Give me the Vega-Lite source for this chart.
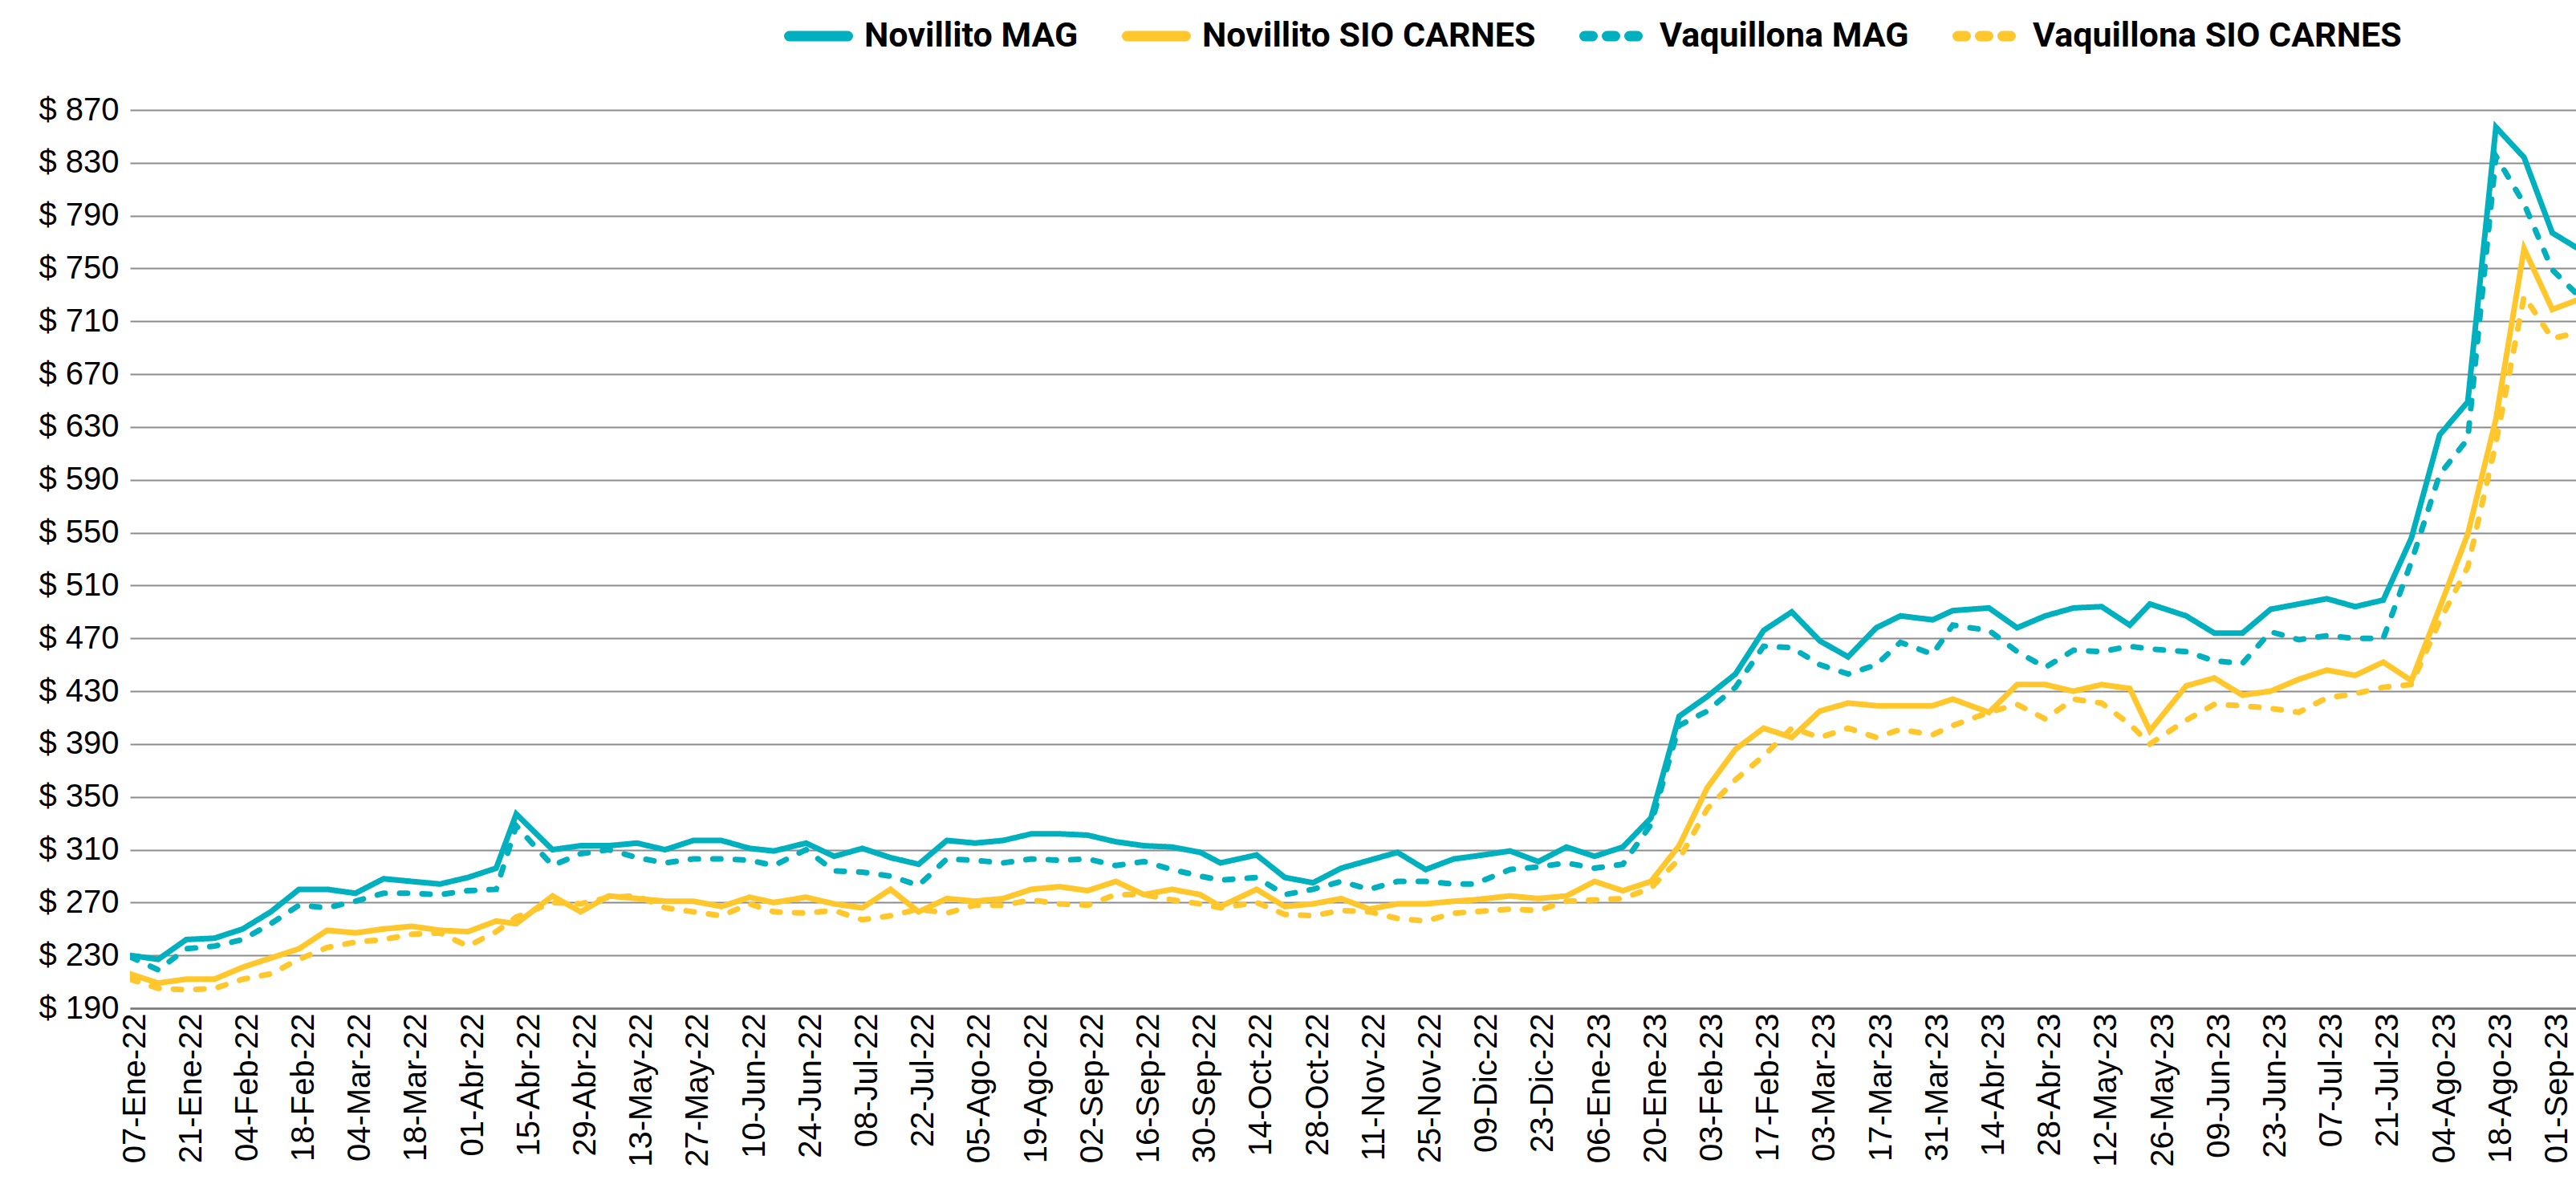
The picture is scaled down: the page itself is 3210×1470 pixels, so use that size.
{
  "$schema": "https://vega.github.io/schema/vega-lite/v6.json",
  "width": 3048,
  "height": 1119,
  "autosize": {"type": "none"},
  "padding": {"left": 162, "top": 137, "right": 0, "bottom": 214},
  "background": "white",
  "config": {"view": {"stroke": null}},
  "data": {"values": [
    {"fecha": "2022-01-07", "Novillito MAG": 230, "Novillito SIO CARNES": 216, "Vaquillona MAG": 229, "Vaquillona SIO CARNES": 212},
    {"fecha": "2022-01-14", "Novillito MAG": 227, "Novillito SIO CARNES": 209, "Vaquillona MAG": 219, "Vaquillona SIO CARNES": 205},
    {"fecha": "2022-01-21", "Novillito MAG": 242, "Novillito SIO CARNES": 212, "Vaquillona MAG": 235, "Vaquillona SIO CARNES": 204},
    {"fecha": "2022-01-28", "Novillito MAG": 243, "Novillito SIO CARNES": 212, "Vaquillona MAG": 237, "Vaquillona SIO CARNES": 205},
    {"fecha": "2022-02-04", "Novillito MAG": 250, "Novillito SIO CARNES": 221, "Vaquillona MAG": 242, "Vaquillona SIO CARNES": 212},
    {"fecha": "2022-02-11", "Novillito MAG": 263, "Novillito SIO CARNES": 228, "Vaquillona MAG": 254, "Vaquillona SIO CARNES": 216},
    {"fecha": "2022-02-18", "Novillito MAG": 280, "Novillito SIO CARNES": 235, "Vaquillona MAG": 268, "Vaquillona SIO CARNES": 227},
    {"fecha": "2022-02-25", "Novillito MAG": 280, "Novillito SIO CARNES": 249, "Vaquillona MAG": 266, "Vaquillona SIO CARNES": 236},
    {"fecha": "2022-03-04", "Novillito MAG": 277, "Novillito SIO CARNES": 247, "Vaquillona MAG": 271, "Vaquillona SIO CARNES": 240},
    {"fecha": "2022-03-11", "Novillito MAG": 288, "Novillito SIO CARNES": 250, "Vaquillona MAG": 277, "Vaquillona SIO CARNES": 242},
    {"fecha": "2022-03-18", "Novillito MAG": 286, "Novillito SIO CARNES": 252, "Vaquillona MAG": 277, "Vaquillona SIO CARNES": 246},
    {"fecha": "2022-03-25", "Novillito MAG": 284, "Novillito SIO CARNES": 249, "Vaquillona MAG": 276, "Vaquillona SIO CARNES": 247},
    {"fecha": "2022-04-01", "Novillito MAG": 289, "Novillito SIO CARNES": 248, "Vaquillona MAG": 279, "Vaquillona SIO CARNES": 237},
    {"fecha": "2022-04-08", "Novillito MAG": 296, "Novillito SIO CARNES": 256, "Vaquillona MAG": 280, "Vaquillona SIO CARNES": 248},
    {"fecha": "2022-04-13", "Novillito MAG": 337, "Novillito SIO CARNES": 254, "Vaquillona MAG": 328, "Vaquillona SIO CARNES": 259},
    {"fecha": "2022-04-22", "Novillito MAG": 310, "Novillito SIO CARNES": 275, "Vaquillona MAG": 298, "Vaquillona SIO CARNES": 270},
    {"fecha": "2022-04-29", "Novillito MAG": 313, "Novillito SIO CARNES": 263, "Vaquillona MAG": 307, "Vaquillona SIO CARNES": 269},
    {"fecha": "2022-05-06", "Novillito MAG": 313, "Novillito SIO CARNES": 275, "Vaquillona MAG": 310, "Vaquillona SIO CARNES": 274},
    {"fecha": "2022-05-13", "Novillito MAG": 315, "Novillito SIO CARNES": 273, "Vaquillona MAG": 304, "Vaquillona SIO CARNES": 275},
    {"fecha": "2022-05-20", "Novillito MAG": 310, "Novillito SIO CARNES": 271, "Vaquillona MAG": 300, "Vaquillona SIO CARNES": 266},
    {"fecha": "2022-05-27", "Novillito MAG": 317, "Novillito SIO CARNES": 271, "Vaquillona MAG": 303, "Vaquillona SIO CARNES": 263},
    {"fecha": "2022-06-03", "Novillito MAG": 317, "Novillito SIO CARNES": 267, "Vaquillona MAG": 303, "Vaquillona SIO CARNES": 260},
    {"fecha": "2022-06-10", "Novillito MAG": 311, "Novillito SIO CARNES": 274, "Vaquillona MAG": 302, "Vaquillona SIO CARNES": 269},
    {"fecha": "2022-06-16", "Novillito MAG": 309, "Novillito SIO CARNES": 270, "Vaquillona MAG": 298, "Vaquillona SIO CARNES": 263},
    {"fecha": "2022-06-24", "Novillito MAG": 315, "Novillito SIO CARNES": 274, "Vaquillona MAG": 310, "Vaquillona SIO CARNES": 262},
    {"fecha": "2022-07-01", "Novillito MAG": 305, "Novillito SIO CARNES": 269, "Vaquillona MAG": 294, "Vaquillona SIO CARNES": 264},
    {"fecha": "2022-07-08", "Novillito MAG": 311, "Novillito SIO CARNES": 266, "Vaquillona MAG": 293, "Vaquillona SIO CARNES": 257},
    {"fecha": "2022-07-15", "Novillito MAG": 304, "Novillito SIO CARNES": 280, "Vaquillona MAG": 290, "Vaquillona SIO CARNES": 260},
    {"fecha": "2022-07-22", "Novillito MAG": 299, "Novillito SIO CARNES": 263, "Vaquillona MAG": 283, "Vaquillona SIO CARNES": 265},
    {"fecha": "2022-07-29", "Novillito MAG": 317, "Novillito SIO CARNES": 273, "Vaquillona MAG": 303, "Vaquillona SIO CARNES": 262},
    {"fecha": "2022-08-05", "Novillito MAG": 315, "Novillito SIO CARNES": 271, "Vaquillona MAG": 302, "Vaquillona SIO CARNES": 268},
    {"fecha": "2022-08-12", "Novillito MAG": 317, "Novillito SIO CARNES": 273, "Vaquillona MAG": 300, "Vaquillona SIO CARNES": 268},
    {"fecha": "2022-08-19", "Novillito MAG": 322, "Novillito SIO CARNES": 280, "Vaquillona MAG": 303, "Vaquillona SIO CARNES": 272},
    {"fecha": "2022-08-26", "Novillito MAG": 322, "Novillito SIO CARNES": 282, "Vaquillona MAG": 302, "Vaquillona SIO CARNES": 269},
    {"fecha": "2022-09-02", "Novillito MAG": 321, "Novillito SIO CARNES": 279, "Vaquillona MAG": 303, "Vaquillona SIO CARNES": 268},
    {"fecha": "2022-09-09", "Novillito MAG": 316, "Novillito SIO CARNES": 286, "Vaquillona MAG": 298, "Vaquillona SIO CARNES": 276},
    {"fecha": "2022-09-16", "Novillito MAG": 313, "Novillito SIO CARNES": 276, "Vaquillona MAG": 301, "Vaquillona SIO CARNES": 276},
    {"fecha": "2022-09-23", "Novillito MAG": 312, "Novillito SIO CARNES": 280, "Vaquillona MAG": 295, "Vaquillona SIO CARNES": 272},
    {"fecha": "2022-09-30", "Novillito MAG": 308, "Novillito SIO CARNES": 276, "Vaquillona MAG": 290, "Vaquillona SIO CARNES": 269},
    {"fecha": "2022-10-05", "Novillito MAG": 300, "Novillito SIO CARNES": 267, "Vaquillona MAG": 287, "Vaquillona SIO CARNES": 266},
    {"fecha": "2022-10-14", "Novillito MAG": 306, "Novillito SIO CARNES": 280, "Vaquillona MAG": 289, "Vaquillona SIO CARNES": 270},
    {"fecha": "2022-10-21", "Novillito MAG": 289, "Novillito SIO CARNES": 267, "Vaquillona MAG": 276, "Vaquillona SIO CARNES": 261},
    {"fecha": "2022-10-28", "Novillito MAG": 285, "Novillito SIO CARNES": 269, "Vaquillona MAG": 280, "Vaquillona SIO CARNES": 260},
    {"fecha": "2022-11-04", "Novillito MAG": 296, "Novillito SIO CARNES": 273, "Vaquillona MAG": 286, "Vaquillona SIO CARNES": 264},
    {"fecha": "2022-11-11", "Novillito MAG": 302, "Novillito SIO CARNES": 265, "Vaquillona MAG": 280, "Vaquillona SIO CARNES": 263},
    {"fecha": "2022-11-18", "Novillito MAG": 308, "Novillito SIO CARNES": 269, "Vaquillona MAG": 286, "Vaquillona SIO CARNES": 258},
    {"fecha": "2022-11-25", "Novillito MAG": 295, "Novillito SIO CARNES": 269, "Vaquillona MAG": 286, "Vaquillona SIO CARNES": 256},
    {"fecha": "2022-12-02", "Novillito MAG": 303, "Novillito SIO CARNES": 271, "Vaquillona MAG": 284, "Vaquillona SIO CARNES": 262},
    {"fecha": "2022-12-07", "Novillito MAG": 305, "Novillito SIO CARNES": 272, "Vaquillona MAG": 284, "Vaquillona SIO CARNES": 263},
    {"fecha": "2022-12-16", "Novillito MAG": 309, "Novillito SIO CARNES": 275, "Vaquillona MAG": 295, "Vaquillona SIO CARNES": 265},
    {"fecha": "2022-12-23", "Novillito MAG": 301, "Novillito SIO CARNES": 273, "Vaquillona MAG": 297, "Vaquillona SIO CARNES": 264},
    {"fecha": "2022-12-30", "Novillito MAG": 312, "Novillito SIO CARNES": 275, "Vaquillona MAG": 300, "Vaquillona SIO CARNES": 271},
    {"fecha": "2023-01-06", "Novillito MAG": 305, "Novillito SIO CARNES": 286, "Vaquillona MAG": 296, "Vaquillona SIO CARNES": 272},
    {"fecha": "2023-01-13", "Novillito MAG": 312, "Novillito SIO CARNES": 279, "Vaquillona MAG": 299, "Vaquillona SIO CARNES": 273},
    {"fecha": "2023-01-20", "Novillito MAG": 334, "Novillito SIO CARNES": 286, "Vaquillona MAG": 329, "Vaquillona SIO CARNES": 281},
    {"fecha": "2023-01-27", "Novillito MAG": 411, "Novillito SIO CARNES": 313, "Vaquillona MAG": 404, "Vaquillona SIO CARNES": 303},
    {"fecha": "2023-02-03", "Novillito MAG": 426, "Novillito SIO CARNES": 357, "Vaquillona MAG": 415, "Vaquillona SIO CARNES": 341},
    {"fecha": "2023-02-10", "Novillito MAG": 443, "Novillito SIO CARNES": 386, "Vaquillona MAG": 433, "Vaquillona SIO CARNES": 363},
    {"fecha": "2023-02-17", "Novillito MAG": 476, "Novillito SIO CARNES": 402, "Vaquillona MAG": 464, "Vaquillona SIO CARNES": 381},
    {"fecha": "2023-02-24", "Novillito MAG": 490, "Novillito SIO CARNES": 395, "Vaquillona MAG": 463, "Vaquillona SIO CARNES": 402},
    {"fecha": "2023-03-03", "Novillito MAG": 468, "Novillito SIO CARNES": 415, "Vaquillona MAG": 450, "Vaquillona SIO CARNES": 395},
    {"fecha": "2023-03-10", "Novillito MAG": 456, "Novillito SIO CARNES": 421, "Vaquillona MAG": 443, "Vaquillona SIO CARNES": 402},
    {"fecha": "2023-03-17", "Novillito MAG": 478, "Novillito SIO CARNES": 419, "Vaquillona MAG": 450, "Vaquillona SIO CARNES": 395},
    {"fecha": "2023-03-23", "Novillito MAG": 487, "Novillito SIO CARNES": 419, "Vaquillona MAG": 467, "Vaquillona SIO CARNES": 401},
    {"fecha": "2023-03-31", "Novillito MAG": 484, "Novillito SIO CARNES": 419, "Vaquillona MAG": 458, "Vaquillona SIO CARNES": 397},
    {"fecha": "2023-04-05", "Novillito MAG": 491, "Novillito SIO CARNES": 424, "Vaquillona MAG": 480, "Vaquillona SIO CARNES": 404},
    {"fecha": "2023-04-14", "Novillito MAG": 493, "Novillito SIO CARNES": 414, "Vaquillona MAG": 476, "Vaquillona SIO CARNES": 414},
    {"fecha": "2023-04-21", "Novillito MAG": 478, "Novillito SIO CARNES": 435, "Vaquillona MAG": 460, "Vaquillona SIO CARNES": 420},
    {"fecha": "2023-04-28", "Novillito MAG": 487, "Novillito SIO CARNES": 435, "Vaquillona MAG": 448, "Vaquillona SIO CARNES": 409},
    {"fecha": "2023-05-05", "Novillito MAG": 493, "Novillito SIO CARNES": 430, "Vaquillona MAG": 461, "Vaquillona SIO CARNES": 424},
    {"fecha": "2023-05-12", "Novillito MAG": 494, "Novillito SIO CARNES": 435, "Vaquillona MAG": 460, "Vaquillona SIO CARNES": 421},
    {"fecha": "2023-05-19", "Novillito MAG": 480, "Novillito SIO CARNES": 432, "Vaquillona MAG": 464, "Vaquillona SIO CARNES": 405},
    {"fecha": "2023-05-24", "Novillito MAG": 496, "Novillito SIO CARNES": 400, "Vaquillona MAG": 462, "Vaquillona SIO CARNES": 390},
    {"fecha": "2023-06-02", "Novillito MAG": 487, "Novillito SIO CARNES": 434, "Vaquillona MAG": 460, "Vaquillona SIO CARNES": 408},
    {"fecha": "2023-06-09", "Novillito MAG": 474, "Novillito SIO CARNES": 440, "Vaquillona MAG": 453, "Vaquillona SIO CARNES": 420},
    {"fecha": "2023-06-16", "Novillito MAG": 474, "Novillito SIO CARNES": 427, "Vaquillona MAG": 451, "Vaquillona SIO CARNES": 419},
    {"fecha": "2023-06-23", "Novillito MAG": 492, "Novillito SIO CARNES": 430, "Vaquillona MAG": 475, "Vaquillona SIO CARNES": 417},
    {"fecha": "2023-06-30", "Novillito MAG": 496, "Novillito SIO CARNES": 439, "Vaquillona MAG": 469, "Vaquillona SIO CARNES": 414},
    {"fecha": "2023-07-07", "Novillito MAG": 500, "Novillito SIO CARNES": 446, "Vaquillona MAG": 472, "Vaquillona SIO CARNES": 425},
    {"fecha": "2023-07-14", "Novillito MAG": 494, "Novillito SIO CARNES": 442, "Vaquillona MAG": 470, "Vaquillona SIO CARNES": 428},
    {"fecha": "2023-07-21", "Novillito MAG": 499, "Novillito SIO CARNES": 452, "Vaquillona MAG": 470, "Vaquillona SIO CARNES": 433},
    {"fecha": "2023-07-28", "Novillito MAG": 546, "Novillito SIO CARNES": 438, "Vaquillona MAG": 528, "Vaquillona SIO CARNES": 435},
    {"fecha": "2023-08-04", "Novillito MAG": 624, "Novillito SIO CARNES": 493, "Vaquillona MAG": 594, "Vaquillona SIO CARNES": 483},
    {"fecha": "2023-08-11", "Novillito MAG": 649, "Novillito SIO CARNES": 549, "Vaquillona MAG": 621, "Vaquillona SIO CARNES": 524},
    {"fecha": "2023-08-18", "Novillito MAG": 857, "Novillito SIO CARNES": 636, "Vaquillona MAG": 835, "Vaquillona SIO CARNES": 618},
    {"fecha": "2023-08-25", "Novillito MAG": 834, "Novillito SIO CARNES": 765, "Vaquillona MAG": 799, "Vaquillona SIO CARNES": 729},
    {"fecha": "2023-09-01", "Novillito MAG": 777, "Novillito SIO CARNES": 719, "Vaquillona MAG": 749, "Vaquillona SIO CARNES": 697},
    {"fecha": "2023-09-08", "Novillito MAG": 764, "Novillito SIO CARNES": 727, "Vaquillona MAG": 728, "Vaquillona SIO CARNES": 702}
  ]},
  "transform": [
    {"fold": ["Novillito MAG", "Novillito SIO CARNES", "Vaquillona MAG", "Vaquillona SIO CARNES"], "as": ["serie", "precio"]}
  ],
  "mark": {"type": "line", "strokeWidth": 7, "strokeCap": "round", "strokeJoin": "miter", "clip": true},
  "encoding": {
    "x": {
      "field": "fecha",
      "type": "temporal",
      "scale": {"type": "utc", "domain": [1641513600000, 1694036160000]},
      "axis": {
        "title": null,
        "values": [1641513600000, 1642723200000, 1643932800000, 1645142400000, 1646352000000, 1647561600000, 1648771200000, 1649980800000, 1651190400000, 1652400000000, 1653609600000, 1654819200000, 1656028800000, 1657238400000, 1658448000000, 1659657600000, 1660867200000, 1662076800000, 1663286400000, 1664496000000, 1665705600000, 1666915200000, 1668124800000, 1669334400000, 1670544000000, 1671753600000, 1672963200000, 1674172800000, 1675382400000, 1676592000000, 1677801600000, 1679011200000, 1680220800000, 1681430400000, 1682640000000, 1683849600000, 1685059200000, 1686268800000, 1687478400000, 1688688000000, 1689897600000, 1691107200000, 1692316800000, 1693526400000],
        "labelExpr": "utcFormat(datum.value, '%d') + '-' + ['Ene','Feb','Mar','Abr','May','Jun','Jul','Ago','Sep','Oct','Nov','Dic'][utcmonth(datum.value)] + '-' + utcFormat(datum.value, '%y')",
        "labelAngle": -90,
        "labelFont": "Liberation Sans",
        "labelFontSize": 40,
        "labelColor": "#000000",
        "labelPadding": 6,
        "labelOffset": 6,
        "labelLimit": 500,
        "labelOverlap": false,
        "labelFlush": false,
        "labelBound": false,
        "ticks": false,
        "grid": false,
        "domain": true,
        "domainColor": "#7a7a7a",
        "domainWidth": 2.5
      }
    },
    "y": {
      "field": "precio",
      "type": "quantitative",
      "scale": {"domain": [190, 870], "nice": false, "zero": false},
      "axis": {
        "title": null,
        "values": [190, 230, 270, 310, 350, 390, 430, 470, 510, 550, 590, 630, 670, 710, 750, 790, 830, 870],
        "labelExpr": "'$ ' + datum.value",
        "labelFont": "Liberation Sans",
        "labelFontSize": 40,
        "labelColor": "#000000",
        "labelPadding": 14,
        "labelLimit": 500,
        "ticks": false,
        "domain": false,
        "grid": true,
        "gridColor": "#8c8c8c",
        "gridWidth": 2
      }
    },
    "color": {
      "field": "serie",
      "type": "nominal",
      "scale": {
        "domain": ["Novillito MAG", "Novillito SIO CARNES", "Vaquillona MAG", "Vaquillona SIO CARNES"],
        "range": ["#00B0BE", "#FFC72C", "#00B0BE", "#FFC72C"]
      },
      "legend": {
        "title": null,
        "orient": "none",
        "legendX": 815,
        "legendY": -135,
        "direction": "horizontal",
        "padding": 0,
        "symbolType": "stroke",
        "symbolSize": 5329,
        "symbolStrokeWidth": 13,
        "labelFont": "Roboto",
        "labelFontSize": 43,
        "labelFontWeight": "bold",
        "labelColor": "#000000",
        "labelOffset": 14,
        "labelLimit": 1000,
        "columnPadding": 34,
        "encode": {
          "symbols": {
            "update": {
              "strokeDash": {"signal": "indexof(datum.value, 'Vaquillona') === 0 ? [0.01, 26] : [1, 0]"},
              "strokeCap": {"value": "round"},
              "strokeWidth": {"value": 13}
            }
          }
        }
      }
    },
    "strokeDash": {
      "field": "serie",
      "type": "nominal",
      "scale": {
        "domain": ["Novillito MAG", "Novillito SIO CARNES", "Vaquillona MAG", "Vaquillona SIO CARNES"],
        "range": [[1, 0], [1, 0], [10, 18], [10, 18]]
      },
      "legend": null
    }
  }
}
